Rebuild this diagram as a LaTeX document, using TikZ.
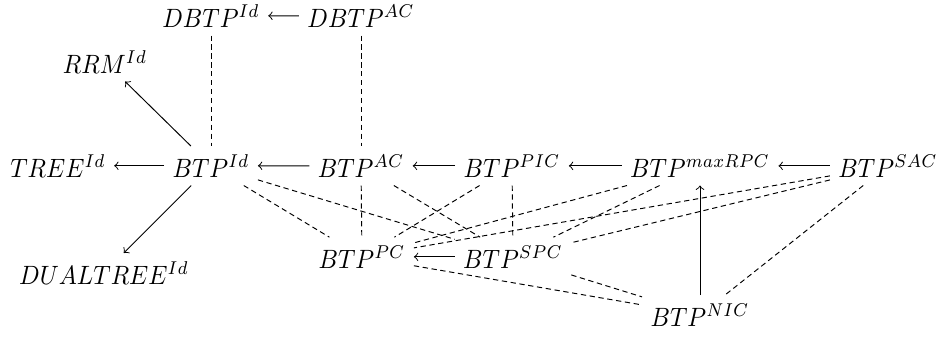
\documentclass[tikz,border=0pt]{standalone}
\usepackage{graphicx}
\newcommand{\mylab}[1]{\scalebox{1}[1.1]{$#1$}}
\begin{document}
\begin{tikzpicture}[x=0.415pt,y=-0.415pt,
  lbl/.style={anchor=base},
  arr/.style={->},
  dsh/.style={dash pattern=on 2.2pt off 1.5pt}]
\useasboundingbox (0,0) rectangle (939,337);
\node[lbl] (dbtpid) at (211,27) {\mylab{DBTP^{Id}}};
\node[lbl] (dbtpac) at (361,27) {\mylab{DBTP^{AC}}};
\node[lbl] (rrm) at (105,73) {\mylab{RRM^{Id}}};
\node[lbl] (tree) at (58,177) {\mylab{TREE^{Id}}};
\node[lbl] (btpid) at (211,177) {\mylab{BTP^{Id}}};
\node[lbl] (btpac) at (361,177) {\mylab{BTP^{AC}}};
\node[lbl] (pic) at (512,177) {\mylab{BTP^{PIC}}};
\node[lbl] (maxrpc) at (700,177) {\mylab{BTP^{maxRPC}}};
\node[lbl] (sac) at (888,177) {\mylab{BTP^{SAC}}};
\node[lbl] (dual) at (104,284) {\mylab{DUALTREE^{Id}}};
\node[lbl] (pc) at (362,268) {\mylab{BTP^{PC}}};
\node[lbl] (spc) at (513,268) {\mylab{BTP^{SPC}}};
\node[lbl] (nic) at (700,326) {\mylab{BTP^{NIC}}};
% solid arrows
\draw[arr] (dbtpac) -- (dbtpid);
\draw[arr] (btpid) -- (tree);
\draw[arr] (btpac) -- (btpid);
\draw[arr] (pic) -- (btpac);
\draw[arr] (maxrpc) -- (pic);
\draw[arr] (sac) -- (maxrpc);
\draw[arr] (spc) -- (pc);
\draw[arr] (btpid) -- (rrm);
\draw[arr] (btpid) -- (dual);
\draw[arr] (nic) -- (maxrpc);
% dashed links
\draw[dsh] (dbtpid) -- (btpid);
\draw[dsh] (dbtpac) -- (btpac);
\draw[dsh] (btpac) -- (pc);
\draw[dsh] (pic) -- (spc);
\draw[dsh] (btpid) -- (pc);
\draw[dsh] (btpid) -- (spc);
\draw[dsh] (btpac) -- (spc);
\draw[dsh] (pic) -- (pc);
\draw[dsh] (maxrpc) -- (pc);
\draw[dsh] (maxrpc) -- (spc);
\draw[dsh] (sac) -- (pc);
\draw[dsh] (sac) -- (spc);
\draw[dsh] (sac) -- (nic);
\draw[dsh] (pc) -- (nic);
\draw[dsh] (spc) -- (nic);
\end{tikzpicture}
\end{document}
